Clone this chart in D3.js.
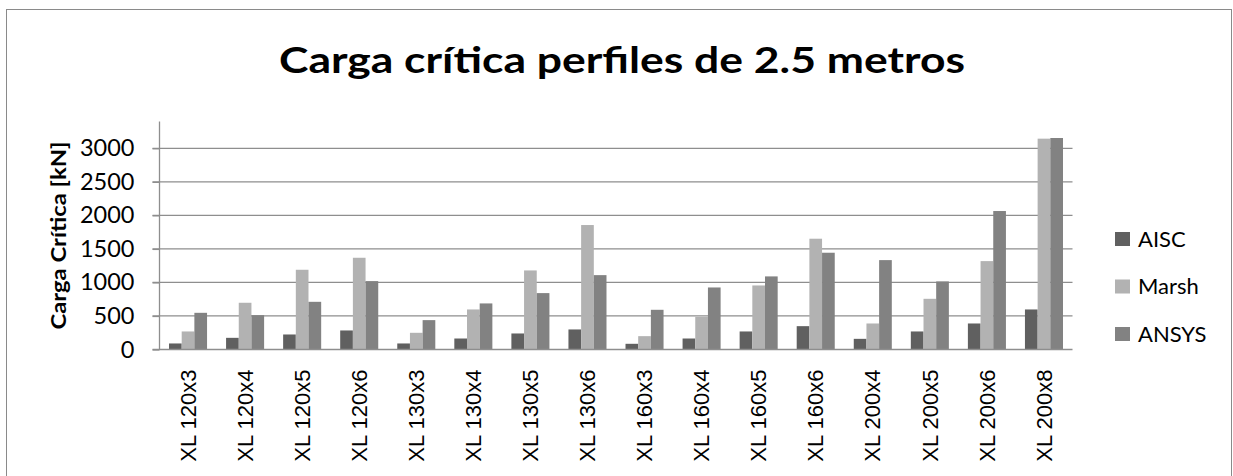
<!DOCTYPE html>
<html>
<head>
<meta charset="utf-8">
<script src="https://cdn.jsdelivr.net/npm/d3@7"></script>
<style>
  body { margin: 0; background: #fff; }
  svg { display: block; }
</style>
</head>
<body>
<svg width="1233" height="476"></svg>
<script>
// data
let categories = ["XL 120x3", "XL 120x4", "XL 120x5", "XL 120x6",
                  "XL 130x3", "XL 130x4", "XL 130x5", "XL 130x6",
                  "XL 160x3", "XL 160x4", "XL 160x5", "XL 160x6",
                  "XL 200x4", "XL 200x5", "XL 200x6", "XL 200x8"];
let seriesNames = ["AISC", "Marsh", "ANSYS"];
let aisc  = [90, 174, 224, 284, 90, 164, 239, 299, 85, 164, 269, 348, 159, 269, 388, 597];
let marsh = [269, 697, 1189, 1368, 249, 597, 1179, 1856, 199, 488, 955, 1652, 388, 756, 1318, 3144];
let ansys = [547, 512, 711, 1020, 438, 687, 841, 1109, 592, 925, 1090, 1443, 1333, 1015, 2065, 3154];
let yTicks = [0, 500, 1000, 1500, 2000, 2500, 3000];

let seriesValues = [aisc, marsh, ansys];
let colors = ["#606060", "#b2b2b2", "#828282"];

let svg = d3.select("svg");

// chart border
svg.append("rect")
    .attr("x", 6.5).attr("y", 9.5)
    .attr("width", 1225).attr("height", 480)
    .attr("fill", "#fff")
    .attr("stroke", "#8a8a8a")
    .attr("stroke-width", 1);

// plot area
let plot = { left: 159.5, right: 1072.5, top: 121.5, bottom: 349.5 };

let x = d3.scaleBand()
    .domain(categories)
    .range([plot.left, plot.right])
    .paddingInner(0)
    .paddingOuter(0);

// Excel gap width 150% -> bars take 3 / 4.5 of each band
let x1 = d3.scaleBand()
    .domain(seriesNames)
    .range([x.bandwidth() * 0.75 / 4.5, x.bandwidth() * 3.75 / 4.5]);

let y = d3.scaleLinear()
    .domain([0, 3400])
    .range([plot.bottom, plot.top]);

// gridlines
svg.append("g")
    .selectAll("line")
    .data(yTicks.filter(d => d > 0))
    .enter().append("line")
    .attr("x1", plot.left - 7).attr("x2", plot.right)
    .attr("y1", d => y(d)).attr("y2", d => y(d))
    .attr("stroke", "#8e8e8e")
    .attr("stroke-width", 1.3);

// bars
let rows = categories.map((c, i) => ({
    cat: c,
    vals: seriesNames.map((s, j) => ({ name: s, value: seriesValues[j][i], color: colors[j] }))
}));

svg.append("g")
    .selectAll("g")
    .data(rows)
    .enter().append("g")
    .attr("transform", d => "translate(" + x(d.cat) + ",0)")
    .selectAll("rect")
    .data(d => d.vals)
    .enter().append("rect")
    .attr("x", d => x1(d.name))
    .attr("width", x1.bandwidth())
    .attr("y", d => y(d.value))
    .attr("height", d => y(0) - y(d.value))
    .attr("fill", d => d.color);

// y axis
let yAxis = d3.axisLeft(y)
    .tickValues(yTicks)
    .tickSize(7)
    .tickPadding(18)
    .tickFormat(d3.format("d"));

let yg = svg.append("g")
    .attr("transform", "translate(" + plot.left + ",0)")
    .call(yAxis);
yg.select(".domain")
    .attr("stroke", "#8e8e8e")
    .attr("stroke-width", 1.3)
    .attr("d", "M0," + plot.top + "V" + plot.bottom);
yg.selectAll(".tick line").attr("stroke", "#8e8e8e").attr("stroke-width", 1.3);
yg.selectAll(".tick text")
    .attr("fill", "#000")
    .style("font-family", "Lato, sans-serif")
    .style("font-size", "23.5px");

// x axis baseline
svg.append("line")
    .attr("x1", plot.left - 7).attr("x2", plot.right)
    .attr("y1", y(0)).attr("y2", y(0))
    .attr("stroke", "#8e8e8e")
    .attr("stroke-width", 1.3);

// category labels, rotated
svg.append("g")
    .selectAll("text")
    .data(categories)
    .enter().append("text")
    .attr("transform", d => "translate(" + (x(d) + x.bandwidth() / 2) + "," + (plot.bottom + 20) + ") rotate(-90)")
    .attr("text-anchor", "end")
    .attr("dy", "0.35em")
    .style("font-family", "'Liberation Sans', Arial, sans-serif")
    .style("font-size", "22px")
    .text(d => d);

// title
svg.append("text")
    .attr("x", 622)
    .attr("y", 73)
    .attr("text-anchor", "middle")
    .attr("textLength", 686)
    .attr("lengthAdjust", "spacingAndGlyphs")
    .style("font-family", "Lato, sans-serif")
    .style("font-weight", "bold")
    .style("font-size", "37px")
    .text("Carga crítica perfiles de 2.5 metros");

// y axis title
svg.append("text")
    .attr("transform", "translate(66," + ((plot.top + plot.bottom) / 2) + ") rotate(-90)")
    .attr("text-anchor", "middle")
    .attr("textLength", 188)
    .attr("lengthAdjust", "spacingAndGlyphs")
    .style("font-family", "Lato, sans-serif")
    .style("font-weight", "bold")
    .style("font-size", "20px")
    .text("Carga Crítica [kN]");

// legend
let legend = svg.append("g")
    .selectAll("g")
    .data(seriesNames)
    .enter().append("g")
    .attr("transform", (d, i) => "translate(1115," + (239 + i * 47.5) + ")");

legend.append("rect")
    .attr("x", 0).attr("y", -7)
    .attr("width", 15).attr("height", 14)
    .attr("fill", (d, i) => colors[i]);

legend.append("text")
    .attr("x", 23)
    .attr("y", 0)
    .attr("dy", "0.35em")
    .style("font-family", "Lato, sans-serif")
    .style("font-size", "22px")
    .text(d => d);
</script>
</body>
</html>
